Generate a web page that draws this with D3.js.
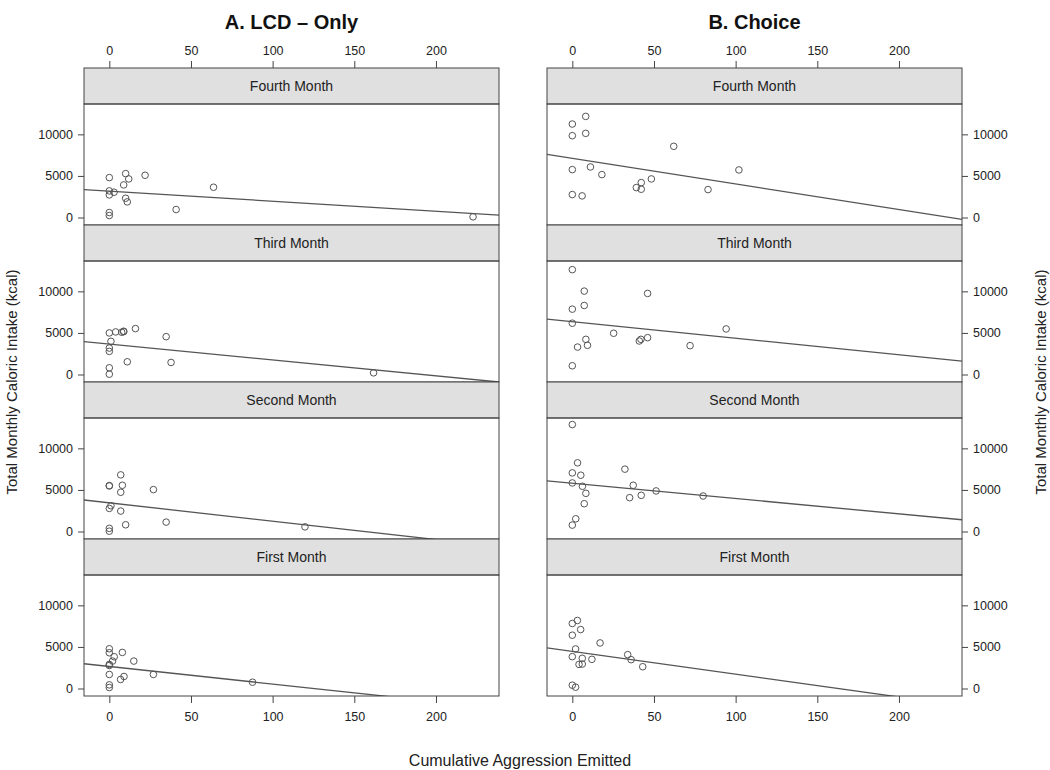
<!DOCTYPE html>
<html><head><meta charset="utf-8">
<script src="https://cdn.jsdelivr.net/npm/d3@7"></script>
<style>body{margin:0;background:#fff}svg text{font-family:"Liberation Sans",Arial,Helvetica,sans-serif}</style>
</head><body><svg id="c" width="1050" height="770"></svg>
<script>
const groups = ["A. LCD \u2013 Only", "B. Choice"];
const months = ["Fourth Month", "Third Month", "Second Month", "First Month"];
const xTicks = [0, 50, 100, 150, 200];
const yTicks = [0, 5000, 10000];

// LCD-only: aggression (x) and caloric intake (y)
const lcdFourthX = [0, 10, 11.9, 21.9, 8.8, 0, 0, 2.9, 10, 11, 40.9, 63.8, 0, 0, 222.7];
const lcdFourthY = [4800, 5280, 4640, 5080, 3920, 3200, 2720, 3040, 2320, 1880, 960, 3640, 600, 240, 80];
const lcdThirdX = [0, 3.9, 7.6, 8.8, 8.8, 16, 34.8, 1, 0, 0, 11, 37.8, 0, 0, 161.8];
const lcdThirdY = [5000, 5120, 5080, 5160, 5200, 5520, 4550, 3990, 3180, 2780, 1530, 1450, 810, 40, 200];
const lcdSecondX = [7, 0, 0, 8, 7, 27, 1, 0, 7, 10, 34.8, 119.8, 0, 0];
const lcdSecondY = [6810, 5520, 5480, 5560, 4720, 5040, 3100, 2780, 2460, 810, 1130, 560, 380, 40];
const lcdFirstX = [0, 0, 8, 3, 2, 15, 0, 0, 0, 9, 6.9, 27, 87.7, 0, 0];
const lcdFirstY = [4780, 4300, 4340, 3820, 3300, 3300, 2900, 2770, 1690, 1450, 1090, 1690, 760, 440, 120];

// Choice
const choFourthX = [0, 8.2, 0, 8.2, 62.1, 0, 11.1, 18.1, 102, 48.4, 42.2, 39.2, 42.2, 83.1, 0, 6];
const choFourthY = [11240, 12160, 9840, 10120, 8560, 5760, 6080, 5160, 5720, 4640, 4200, 3600, 3400, 3360, 2760, 2600];
const choThirdX = [0, 7.3, 46.1, 7.3, 0, 0, 94.2, 25.3, 8.3, 9.3, 3.2, 46.1, 42, 41, 72.1, 0];
const choThirdY = [12610, 10030, 9750, 8300, 7860, 6170, 5480, 4960, 4230, 3510, 3300, 4430, 4230, 4030, 3470, 1050];
const choSecondX = [0, 3.2, 0, 5.2, 32.2, 0, 6.2, 37.3, 8.3, 51.3, 80.1, 42.2, 35.1, 7.3, 2.1, 0];
const choSecondY = [12860, 8260, 7050, 6770, 7500, 5840, 5440, 5560, 4590, 4880, 4270, 4350, 4070, 3340, 1530, 770];
const choFirstX = [3.1, 0, 5.1, 0, 17, 2, 0, 6.1, 12, 33.9, 36, 4.1, 6.1, 43.1, 0, 2];
const choFirstY = [8180, 7820, 7090, 6410, 5480, 4760, 3830, 3630, 3510, 4070, 3470, 2900, 2940, 2620, 400, 160];

// fitted regression lines (per month, top to bottom)
const lcdIntercept = [3172, 3654, 3448, 2652];
const lcdSlope = [-12.14, -19.1, -22.06, -21.15];
const choIntercept = [7125, 6345, 5806, 4458];
const choSlope = [-30.84, -19.83, -18.41, -27.38];

const dataX = [[lcdFourthX, lcdThirdX, lcdSecondX, lcdFirstX], [choFourthX, choThirdX, choSecondX, choFirstX]];
const dataY = [[lcdFourthY, lcdThirdY, lcdSecondY, lcdFirstY], [choFourthY, choThirdY, choSecondY, choFirstY]];
const intercepts = [lcdIntercept, choIntercept];
const slopes = [lcdSlope, choSlope];

const svg = d3.select("#c");
const colLeft = [84, 547], colW = 415;
const top0 = 68, stripH = 36, panelH = 121;
const xDom = [-15.5, 238.6], yDom = [-900, 13650];
const dark = "#444";

groups.forEach((g, ci) => {
  const x0 = colLeft[ci];
  const x = d3.scaleLinear().domain(xDom).range([x0, x0 + colW]);
  svg.append("text").attr("x", x0 + colW / 2).attr("y", 29).attr("text-anchor", "middle")
    .attr("font-size", 20).attr("font-weight", "bold").attr("fill", "#111").text(g);

  months.forEach((m, ri) => {
    const sy = top0 + ri * (stripH + panelH);
    const py = sy + stripH;
    const y = d3.scaleLinear().domain(yDom).range([py + panelH, py]);
    svg.append("rect").attr("x", x0).attr("y", sy).attr("width", colW).attr("height", stripH)
      .attr("fill", "#e0e0e0").attr("stroke", dark).attr("stroke-width", 1);
    svg.append("text").attr("x", x0 + colW / 2).attr("y", sy + stripH / 2 + 5).attr("text-anchor", "middle")
      .attr("font-size", 14).attr("fill", "#222").text(m);
    const cid = `clip${ci}${ri}`;
    svg.append("clipPath").attr("id", cid).append("rect")
      .attr("x", x0).attr("y", py).attr("width", colW).attr("height", panelH);
    const pg = svg.append("g").attr("clip-path", `url(#${cid})`);
    const b = intercepts[ci][ri], s = slopes[ci][ri];
    pg.append("line").attr("x1", x(xDom[0])).attr("y1", y(b + s * xDom[0]))
      .attr("x2", x(xDom[1])).attr("y2", y(b + s * xDom[1]))
      .attr("stroke", "#555").attr("stroke-width", 1.3);
    const xs = dataX[ci][ri], ys = dataY[ci][ri];
    pg.selectAll("circle").data(xs.map((v, i) => [v, ys[i]])).join("circle")
      .attr("cx", d => x(d[0])).attr("cy", d => y(d[1])).attr("r", 3.3)
      .attr("fill", "none").attr("stroke", "#555").attr("stroke-width", 1);
    svg.append("rect").attr("x", x0).attr("y", py).attr("width", colW).attr("height", panelH)
      .attr("fill", "none").attr("stroke", dark).attr("stroke-width", 1);
    const yAx = ci === 0 ? d3.axisLeft(y) : d3.axisRight(y);
    const ya = svg.append("g").attr("transform", `translate(${ci === 0 ? x0 : x0 + colW},0)`)
      .call(yAx.tickValues(yTicks).tickSize(6).tickPadding(5).tickFormat(d3.format("d")));
    ya.select(".domain").remove();
    ya.selectAll("line").attr("stroke", dark);
    ya.selectAll("text").attr("font-size", 12.5).attr("fill", "#222").style("font-family", "Liberation Sans, Arial, sans-serif");
    if (ri === 0) {
      const ta = svg.append("g").attr("transform", `translate(0,${sy})`)
        .call(d3.axisTop(x).tickValues(xTicks).tickSize(7).tickPadding(6));
      ta.select(".domain").remove();
      ta.selectAll("line").attr("stroke", dark);
      ta.selectAll("text").attr("font-size", 12.5).attr("fill", "#222").style("font-family", "Liberation Sans, Arial, sans-serif");
    }
    if (ri === months.length - 1) {
      const ba = svg.append("g").attr("transform", `translate(0,${py + panelH})`)
        .call(d3.axisBottom(x).tickValues(xTicks).tickSize(7).tickPadding(9));
      ba.select(".domain").remove();
      ba.selectAll("line").attr("stroke", dark);
      ba.selectAll("text").attr("font-size", 12.5).attr("fill", "#222").style("font-family", "Liberation Sans, Arial, sans-serif");
    }
  });
});

const midY = top0 + 2 * (stripH + panelH);
svg.append("text").attr("transform", `translate(17,${midY}) rotate(-90)`).attr("text-anchor", "middle")
  .attr("font-size", 15).attr("fill", "#222").text("Total Monthly Caloric Intake (kcal)");
svg.append("text").attr("transform", `translate(1046,${midY}) rotate(-90)`).attr("text-anchor", "middle")
  .attr("font-size", 15).attr("fill", "#222").text("Total Monthly Caloric Intake (kcal)");
svg.append("text").attr("x", 520).attr("y", 766).attr("text-anchor", "middle")
  .attr("font-size", 16).attr("fill", "#222").text("Cumulative Aggression Emitted");
</script></body></html>
